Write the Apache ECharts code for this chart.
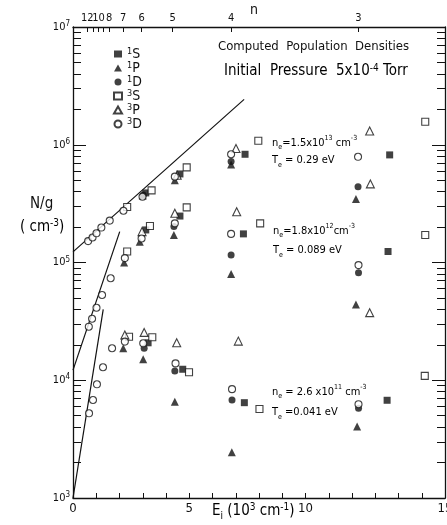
<!DOCTYPE html>
<html><head><meta charset="utf-8">
<script src="https://cdn.jsdelivr.net/npm/echarts@6/dist/echarts.min.js"></script>
<style>html,body{margin:0;padding:0;background:#fff}#c{width:447px;height:525px}</style>
</head><body><div id="c"></div>
<script>
const FONT = "'Liberation Sans Narrow','DejaVu Sans Condensed','Noto Sans',sans-serif";

// ---- data: E_i (10^3 cm^-1) and N/g (cm^-3) per level type ----
const s1S_E = [3.13, 4.60, 7.40, 13.62, 3.13, 4.60, 7.33, 13.55, 3.23, 4.72, 7.37, 13.51];
const s1S_N = [3.9e5, 5.65e5, 8.3e5, 8.2e5, 1.89e5, 2.48e5, 1.75e5, 1.24e5, 2.08e4, 1.24e4, 6.45e3, 6.76e3];

const s1P_E = [3.00, 4.38, 6.80, 12.17, 2.20, 2.87, 4.34, 6.80, 12.17, 2.16, 3.02, 4.38, 6.83, 12.22];
const s1P_N = [3.7e5, 5.0e5, 6.8e5, 3.46e5, 1.0e5, 1.5e5, 1.71e5, 7.98e4, 4.4e4, 1.87e4, 1.51e4, 6.57e3, 2.45e3, 4.04e3];

const s1D_E = [3.02, 6.80, 12.26, 4.34, 6.80, 12.28, 3.06, 4.38, 6.84, 12.28];
const s1D_N = [3.75e5, 7.2e5, 4.4e5, 2.02e5, 1.16e5, 8.2e4, 1.87e4, 1.2e4, 6.8e3, 5.79e3];

const s3S_E = [2.33, 3.38, 4.89, 7.97, 15.15, 2.33, 3.31, 4.89, 8.05, 15.15, 2.41, 3.41, 4.99, 8.02, 15.13];
const s3S_N = [2.96e5, 4.1e5, 6.43e5, 1.08e6, 1.57e6, 1.24e5, 2.04e5, 2.94e5, 2.15e5, 1.71e5, 2.34e4, 2.32e4, 1.17e4, 5.7e3, 1.09e4];

const s3P_E = [4.48, 7.01, 12.76, 2.97, 4.38, 7.04, 12.79, 12.76, 2.23, 3.06, 4.46, 7.11];
const s3P_N = [5.5e5, 9.3e5, 1.31e6, 1.83e5, 2.62e5, 2.7e5, 4.65e5, 3.75e4, 2.42e4, 2.55e4, 2.08e4, 2.15e4];

const s3D_E = [0.65, 0.84, 1.01, 1.22, 1.58, 2.17, 2.99, 4.38, 6.80, 12.26,
               0.68, 0.82, 1.01, 1.25, 1.62, 2.23, 2.95, 4.38, 6.80, 12.28,
               0.69, 0.86, 1.03, 1.29, 1.68, 2.23, 3.02, 4.41, 6.84, 12.28];
const s3D_N = [1.52e5, 1.63e5, 1.77e5, 1.98e5, 2.27e5, 2.75e5, 3.62e5, 5.36e5, 8.3e5, 7.9e5,
               2.85e4, 3.33e4, 4.13e4, 5.3e4, 7.35e4, 1.09e5, 1.6e5, 2.15e5, 1.75e5, 9.5e4,
               5.24e3, 6.8e3, 9.24e3, 1.29e4, 1.87e4, 2.13e4, 2.06e4, 1.39e4, 8.4e3, 6.26e3];

// fitted straight lines (end points)
const lineTop_E = [0, 7.36], lineTop_N = [1.23e5, 2.43e6];
const lineMid_E = [0, 2.01], lineMid_N = [1.22e4, 1.83e5];
const lineBot_E = [0, 1.30], lineBot_N = [1.0e3, 4.0e4];

// axes
const xLabelValues = [0, 5, 10, 16];
const xLabelText = ['0', '5', '10', '15'];
const nTickE = [0.615, 0.85, 1.10, 1.30, 1.55, 2.16, 2.95, 4.29, 6.80, 12.27];
const nTickLabel = ['12', '', '10', '', '8', '7', '6', '5', '4', '3'];
const yMajor = [1e3, 1e4, 1e5, 1e6, 1e7];
const yMinor = [];
for (let k = 3; k < 7; k++) for (let m = 2; m <= 9; m++) yMinor.push(m * Math.pow(10, k));

const zip = (a, b) => a.map((v, i) => [v, b[i]]);
const names = ['1S', '1P', '1D', '3S', '3P', '3D'];

const openStyle = { color: '#fff', borderColor: '#111', borderWidth: 1.1 };
const fillStyle = { color: '#111' };

function scatter(name, sym, size, style, E, N) {
  return { name, type: 'scatter', symbol: sym, symbolSize: size, itemStyle: style,
           data: zip(E, N), xAxisIndex: 0, yAxisIndex: 0, z: 5 };
}
function fitLine(E, N) {
  return { type: 'line', data: zip(E, N), symbol: 'none', silent: true,
           lineStyle: { color: '#111', width: 1.2 }, xAxisIndex: 0, yAxisIndex: 0, z: 3 };
}
function rt(b, s, lh) {
  return {
    b: { fontFamily: FONT, fontSize: b, color: '#111', lineHeight: lh },
    s: { fontFamily: FONT, fontSize: s, color: '#111', lineHeight: s, verticalAlign: 'top' },
    i: { fontFamily: FONT, fontSize: s, color: '#111', lineHeight: s, verticalAlign: 'bottom' }
  };
}

const chart = echarts.init(document.getElementById('c'), null, { renderer: 'canvas' });
chart.setOption({
  animation: false,
  backgroundColor: '#fff',
  grid: { left: 73, right: 2, top: 27, bottom: 27, containLabel: false, outerBoundsMode: 'none' },
  legend: {
    data: names, orient: 'vertical', left: 108, top: 42, itemGap: 0,
    itemWidth: 8, itemHeight: 7, selectedMode: false,
    formatter: n => '{s|' + n[0] + '}{b|' + n[1] + '}',
    textStyle: { rich: rt(14, 9, 13.5) }
  },
  xAxis: [
    { type: 'value', position: 'bottom', min: 0, max: 16, interval: 1,
      axisLine: { lineStyle: { color: '#111', width: 1.3 } },
      axisTick: { inside: true, length: 5, lineStyle: { color: '#111' } },
      axisLabel: { customValues: xLabelValues, fontFamily: FONT, fontSize: 13, color: '#111', margin: 4,
        formatter: v => xLabelText[xLabelValues.indexOf(v)] },
      splitLine: { show: false } },
    { type: 'value', position: 'top', min: 0, max: 16,
      axisLine: { lineStyle: { color: '#111', width: 1.3 } },
      axisTick: { inside: true, length: 5, customValues: nTickE, lineStyle: { color: '#111' } },
      axisLabel: { customValues: nTickE, fontFamily: FONT, fontSize: 11, color: '#111', margin: 3,
        formatter: v => { let bi = 0; nTickE.forEach((t, i) => { if (Math.abs(t - v) < Math.abs(nTickE[bi] - v)) bi = i; }); return nTickLabel[bi]; } },
      splitLine: { show: false } }
  ],
  yAxis: [
    { type: 'log', logBase: 10, min: 1e3, max: 1e7, position: 'left',
      axisLine: { lineStyle: { color: '#111', width: 1.3 } },
      axisTick: { inside: true, length: 13, customValues: yMajor, lineStyle: { color: '#111' } },
      axisLabel: { customValues: yMajor, margin: 3, color: '#111',
        formatter: v => '{b|10}{s|' + Math.round(Math.log10(v)) + '}', rich: rt(11, 8, 14) },
      splitLine: { show: false } },
    { type: 'log', logBase: 10, min: 1e3, max: 1e7, position: 'left',
      axisLine: { show: false },
      axisTick: { inside: true, length: 8, customValues: yMinor, lineStyle: { color: '#111' } },
      axisLabel: { show: false }, splitLine: { show: false } },
    { type: 'log', logBase: 10, min: 1e3, max: 1e7, position: 'right',
      axisLine: { lineStyle: { color: '#111', width: 1.3 } },
      axisTick: { inside: true, length: 13, customValues: yMajor, lineStyle: { color: '#111' } },
      axisLabel: { show: false }, splitLine: { show: false } },
    { type: 'log', logBase: 10, min: 1e3, max: 1e7, position: 'right',
      axisLine: { show: false },
      axisTick: { inside: true, length: 8, customValues: yMinor, lineStyle: { color: '#111' } },
      axisLabel: { show: false }, splitLine: { show: false } }
  ],
  series: [
    scatter('1S', 'rect', 7, fillStyle, s1S_E, s1S_N),
    scatter('1P', 'triangle', 8, fillStyle, s1P_E, s1P_N),
    scatter('1D', 'circle', 7, fillStyle, s1D_E, s1D_N),
    scatter('3S', 'rect', 7, openStyle, s3S_E, s3S_N),
    scatter('3P', 'triangle', 8, openStyle, s3P_E, s3P_N),
    scatter('3D', 'circle', 7, openStyle, s3D_E, s3D_N),
    fitLine(lineTop_E, lineTop_N),
    fitLine(lineMid_E, lineMid_N),
    fitLine(lineBot_E, lineBot_N)
  ],
  graphic: [
    { type: 'text', left: 250, top: 3, style: { text: 'n', font: '14px ' + FONT, fill: '#111' } },
    { type: 'text', left: 218, top: 40, style: { text: 'Computed  Population  Densities', font: '13px ' + FONT, fill: '#111' } },
    { type: 'text', left: 224, top: 63, style: { text: '{b|Initial  Pressure  5x10}{s|-4}{b| Torr}', rich: rt(15, 10, 17) } },
    { type: 'text', left: 30, top: 197, style: { text: 'N/g', font: '15px ' + FONT, fill: '#111' } },
    { type: 'text', left: 20, top: 218, style: { text: '{b|( cm}{s|-3}{b|)}', rich: rt(15, 10, 18) } },
    { type: 'text', left: 212, top: 502, style: { text: '{b|E}{i|i}{b| (10}{s|3}{b| cm}{s|-1}{b|)}', rich: rt(15, 10, 19) } },
    // annotations
    { type: 'text', left: 272, top: 135, style: { text: '{b|n}{i|e}{b|=1.5x10}{s|13}{b| cm}{s|-3}', rich: rt(11, 7, 16) } },
    { type: 'text', left: 272, top: 155, style: { text: '{b|T}{i|e}{b| = 0.29 eV}', rich: rt(11, 7, 16) } },
    { type: 'text', left: 273, top: 223, style: { text: '{b|n}{i|e}{b|=1.8x10}{s|12}{b|cm}{s|-3}', rich: rt(11, 7, 16) } },
    { type: 'text', left: 273, top: 245, style: { text: '{b|T}{i|e}{b| = 0.089 eV}', rich: rt(11, 7, 16) } },
    { type: 'text', left: 272, top: 384, style: { text: '{b|n}{i|e}{b| = 2.6 x10}{s|11}{b| cm}{s|-3}', rich: rt(11, 7, 16) } },
    { type: 'text', left: 272, top: 407, style: { text: '{b|T}{i|e}{b| =0.041 eV}', rich: rt(11, 7, 16) } }
  ]
});
</script>
</body></html>
